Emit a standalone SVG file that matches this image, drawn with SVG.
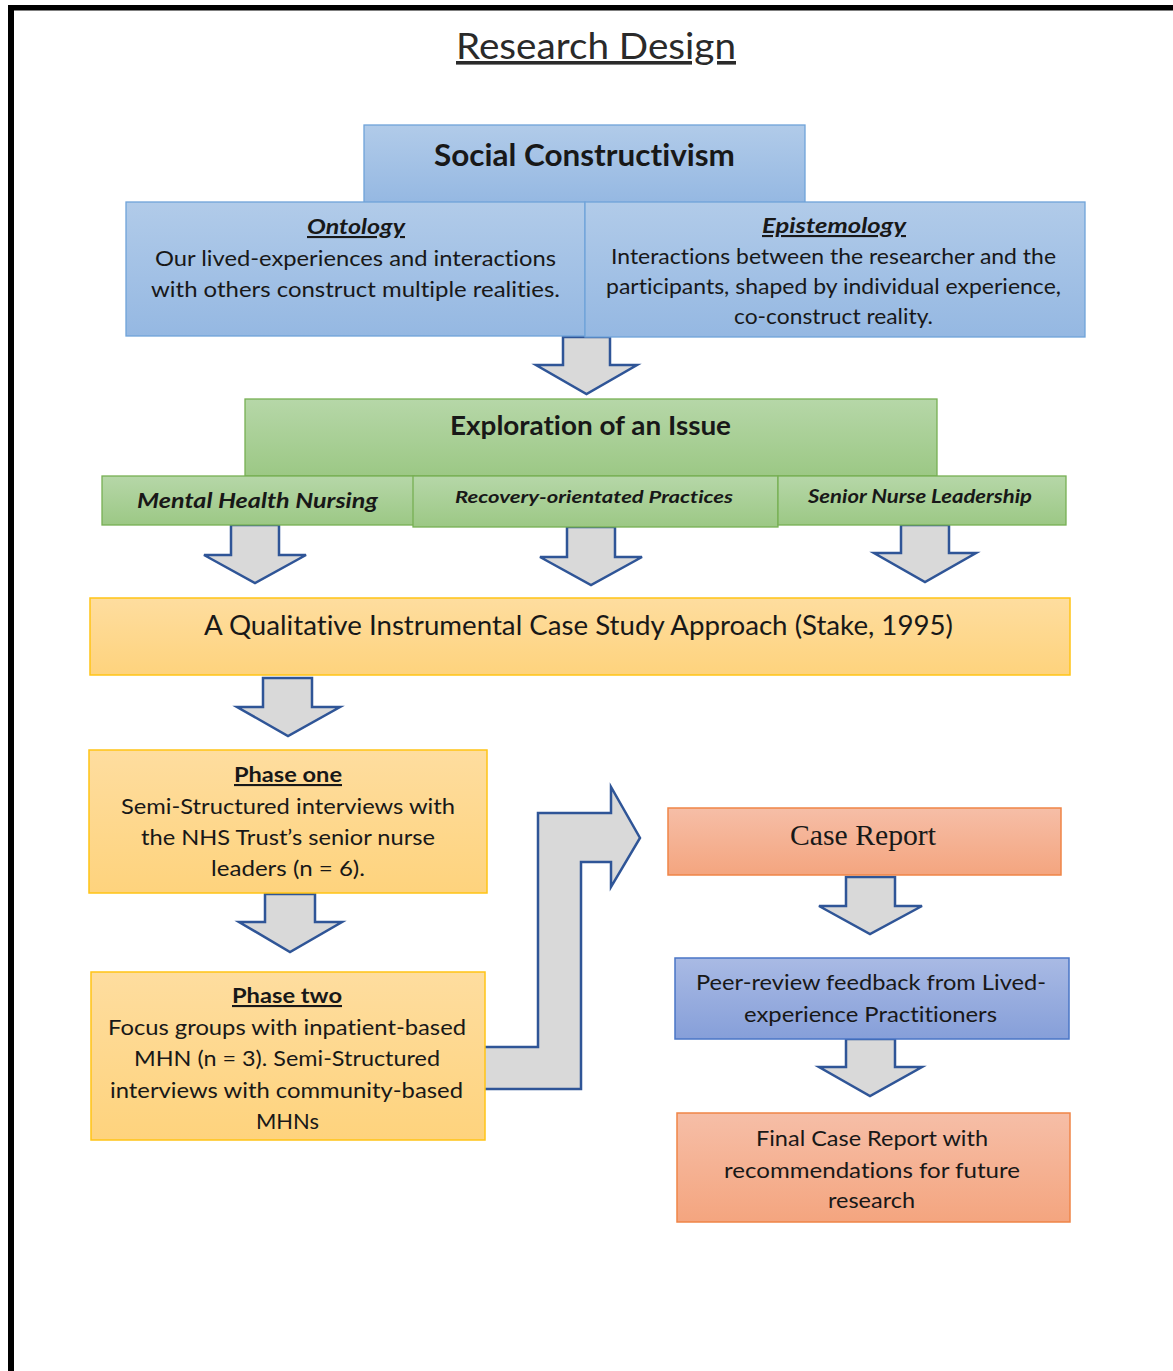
<svg xmlns="http://www.w3.org/2000/svg" width="1173" height="1371" viewBox="0 0 1173 1371">
  <defs>
    <linearGradient id="gBlue" x1="0" y1="0" x2="0" y2="1">
      <stop offset="0" stop-color="#b1cbe9"/>
      <stop offset="1" stop-color="#95b8e2"/>
    </linearGradient>
    <linearGradient id="gGreen" x1="0" y1="0" x2="0" y2="1">
      <stop offset="0" stop-color="#b6d7a8"/>
      <stop offset="1" stop-color="#9cc885"/>
    </linearGradient>
    <linearGradient id="gYellow" x1="0" y1="0" x2="0" y2="1">
      <stop offset="0" stop-color="#fedd9f"/>
      <stop offset="1" stop-color="#fed37d"/>
    </linearGradient>
    <linearGradient id="gSalmon" x1="0" y1="0" x2="0" y2="1">
      <stop offset="0" stop-color="#f6bea7"/>
      <stop offset="1" stop-color="#f4a57f"/>
    </linearGradient>
    <linearGradient id="gPeri" x1="0" y1="0" x2="0" y2="1">
      <stop offset="0" stop-color="#a9bae4"/>
      <stop offset="1" stop-color="#869fd9"/>
    </linearGradient>
  </defs>
  <style>
    text { font-family: Lato, "Liberation Sans", sans-serif; fill: #181818; font-variant-ligatures: none; }
    .blue { fill: url(#gBlue); stroke: #6fa3d9; stroke-width: 1.3; }
    .green { fill: url(#gGreen); stroke: #77b053; stroke-width: 1.3; }
    .yellow { fill: url(#gYellow); stroke: #ffc416; stroke-width: 1.5; }
    .salmon { fill: url(#gSalmon); stroke: #ef8547; stroke-width: 1.5; }
    .peri { fill: url(#gPeri); stroke: #4a76c6; stroke-width: 1.5; }
    .arrow { fill: #d9d9d9; stroke: #2f5597; stroke-width: 2.5; stroke-linejoin: miter; }
    .body { font-size: 21px; }
    .head { font-size: 21px; font-weight: bold; text-decoration: underline; }
    .bi { font-weight: bold; font-style: italic; }
    .serif { font-family: "Liberation Serif", serif; }
  </style>

  <!-- page frame -->
  <rect x="8" y="5" width="1165" height="5.5" fill="#000"/>
  <rect x="8" y="5" width="6" height="1366" fill="#000"/>

  <!-- title -->
  <text x="456" y="59" font-size="36" textLength="280" lengthAdjust="spacingAndGlyphs" style="fill:#2a2a2a;text-decoration:underline">Research Design</text>

  <!-- connectors -->
  <g id="connectors">
    <path class="arrow" d="M563,337 H610 V365 H637 L586.5,394 L536,365 H563 Z"/>
    <path class="arrow" d="M231,525 H279 V555 H306 L255,583 L204,555 H231 Z"/>
    <path class="arrow" d="M567,527 H615 V557 H642 L591,585 L540,557 H567 Z"/>
    <path class="arrow" d="M901,525 H949 V553 H976 L925,582 L874,553 H901 Z"/>
    <path class="arrow" d="M263,678 H312 V707 H340 L288,736 L237,707 H263 Z"/>
    <path class="arrow" d="M265,894 H315 V922 H342 L290,952 L239,922 H265 Z"/>
    <path class="arrow" d="M483,1047 H538 V813 H611 V787 L640,838 L611,887 V862 H581 V1089 H483 Z"/>
    <path class="arrow" d="M846,877 H895 V906 H922 L870,934 L819,906 H846 Z"/>
    <path class="arrow" d="M846,1039 H895 V1067 H922 L870,1096 L819,1067 H846 Z"/>
  </g>

  <!-- paradigm -->
  <g id="social-constructivism">
    <rect class="blue" x="364" y="125" width="441" height="78"/>
    <text x="434" y="166" font-size="30" font-weight="bold" textLength="301" lengthAdjust="spacingAndGlyphs">Social Constructivism</text>
  </g>
  <g id="ontology">
    <rect class="blue" x="126" y="202" width="459" height="134"/>
    <text class="head bi" x="307" y="234" textLength="98" lengthAdjust="spacingAndGlyphs">Ontology</text>
    <text class="body" x="155" y="266" textLength="401" lengthAdjust="spacingAndGlyphs">Our lived-experiences and interactions</text>
    <text class="body" x="151" y="297" textLength="409" lengthAdjust="spacingAndGlyphs">with others construct multiple realities.</text>
  </g>
  <g id="epistemology">
    <rect class="blue" x="585" y="202" width="500" height="135"/>
    <text class="head bi" x="762" y="233" font-size="20.5" textLength="144" lengthAdjust="spacingAndGlyphs">Epistemology</text>
    <text x="611" y="264" font-size="20.5" textLength="445" lengthAdjust="spacingAndGlyphs">Interactions between the researcher and the</text>
    <text x="606" y="294" font-size="20.5" textLength="455" lengthAdjust="spacingAndGlyphs">participants, shaped by individual experience,</text>
    <text x="734" y="324" font-size="20.5" textLength="199" lengthAdjust="spacingAndGlyphs">co-construct reality.</text>
  </g>

  <!-- issue -->
  <g id="exploration">
    <rect class="green" x="245" y="399" width="692" height="77"/>
    <text x="450" y="435" font-size="26" font-weight="bold" textLength="281" lengthAdjust="spacingAndGlyphs">Exploration of an Issue</text>
  </g>
  <g id="mental-health-nursing">
    <rect class="green" x="102" y="476" width="312" height="49"/>
    <text class="bi" x="137" y="508" font-size="21" textLength="241" lengthAdjust="spacingAndGlyphs">Mental Health Nursing</text>
  </g>
  <g id="recovery-practices">
    <rect class="green" x="413" y="476" width="365" height="51"/>
    <text class="bi" x="455" y="503" font-size="17.5" textLength="278" lengthAdjust="spacingAndGlyphs">Recovery-orientated Practices</text>
  </g>
  <g id="senior-nurse-leadership">
    <rect class="green" x="778" y="476" width="288" height="49"/>
    <text class="bi" x="808" y="503" font-size="18" textLength="224" lengthAdjust="spacingAndGlyphs">Senior Nurse Leadership</text>
  </g>

  <!-- approach -->
  <g id="case-study-approach">
    <rect class="yellow" x="90" y="598" width="980" height="77"/>
    <text x="204" y="635" font-size="26" textLength="749" lengthAdjust="spacingAndGlyphs">A Qualitative Instrumental Case Study Approach (Stake, 1995)</text>
  </g>

  <g id="phase-one">
    <rect class="yellow" x="89" y="750" width="398" height="143"/>
    <text class="head" x="234" y="782" textLength="108" lengthAdjust="spacingAndGlyphs">Phase one</text>
    <text class="body" x="121" y="814" textLength="334" lengthAdjust="spacingAndGlyphs">Semi-Structured interviews with</text>
    <text class="body" x="141" y="845" textLength="294" lengthAdjust="spacingAndGlyphs">the NHS Trust’s senior nurse</text>
    <text class="body" x="211" y="876" textLength="154" lengthAdjust="spacingAndGlyphs">leaders (n = 6).</text>
  </g>

  <g id="phase-two">
    <rect class="yellow" x="91" y="972" width="394" height="168"/>
    <text class="head" x="232" y="1003" textLength="110" lengthAdjust="spacingAndGlyphs">Phase two</text>
    <text class="body" x="108" y="1035" textLength="358" lengthAdjust="spacingAndGlyphs">Focus groups with inpatient-based</text>
    <text class="body" x="134" y="1066" textLength="306" lengthAdjust="spacingAndGlyphs">MHN (n = 3). Semi-Structured</text>
    <text class="body" x="110" y="1098" textLength="353" lengthAdjust="spacingAndGlyphs">interviews with community-based</text>
    <text class="body" x="256" y="1129" textLength="63" lengthAdjust="spacingAndGlyphs">MHNs</text>
  </g>

  <!-- reporting -->
  <g id="case-report">
    <rect class="salmon" x="668" y="808" width="393" height="67"/>
    <text class="serif" x="790" y="845" font-size="29" textLength="146" lengthAdjust="spacingAndGlyphs">Case Report</text>
  </g>
  <g id="peer-review">
    <rect class="peri" x="675" y="958" width="394" height="81"/>
    <text class="body" x="696" y="990" textLength="350" lengthAdjust="spacingAndGlyphs">Peer-review feedback from Lived-</text>
    <text class="body" x="744" y="1022" textLength="253" lengthAdjust="spacingAndGlyphs">experience Practitioners</text>
  </g>
  <g id="final-case-report">
    <rect class="salmon" x="677" y="1113" width="393" height="109"/>
    <text class="body" x="756" y="1146" textLength="232" lengthAdjust="spacingAndGlyphs">Final Case Report with</text>
    <text class="body" x="724" y="1178" textLength="296" lengthAdjust="spacingAndGlyphs">recommendations for future</text>
    <text class="body" x="828" y="1208" textLength="87" lengthAdjust="spacingAndGlyphs">research</text>
  </g>
</svg>
